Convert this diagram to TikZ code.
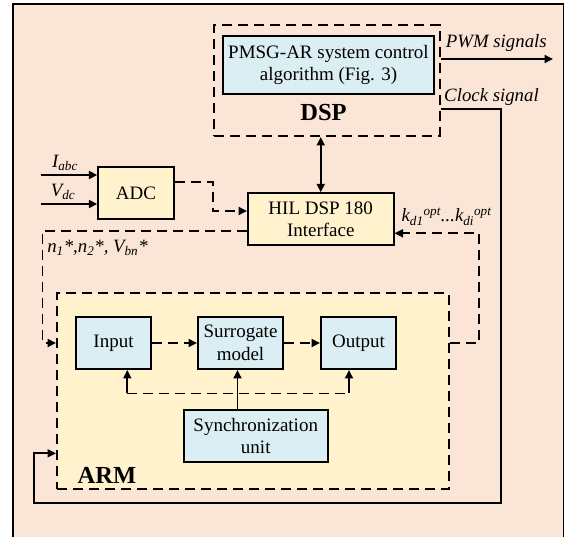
\documentclass[tikz,border=0pt]{standalone}
\usepackage{fontspec}
\setmainfont{Liberation Serif}
\usetikzlibrary{arrows.meta}

\definecolor{peach}{HTML}{FBE5D6}
\definecolor{paleyellow}{HTML}{FFF2CC}
\definecolor{paleblue}{HTML}{DAEEF3}

\tikzset{
    blk/.style={draw, line width=2pt, align=center, inner sep=0pt,
                font=\fontsize{19}{22.5}\selectfont},
    bluebox/.style={blk, fill=paleblue},
    yelbox/.style={blk, fill=paleyellow},
    grp/.style={draw, line width=2pt, dash pattern=on 10pt off 6pt, inner sep=0pt},
    sig/.style={line width=1.8pt},
    dsig/.style={line width=1.9pt, dash pattern=on 10pt off 6pt},
    lbl/.style={font=\fontsize{18.8}{22.5}\selectfont\itshape, inner sep=0pt},
    grptitle/.style={font=\fontsize{24.5}{28}\selectfont\bfseries, inner sep=0pt},
}

\begin{document}
\begin{tikzpicture}[x=1pt, y=-1pt, >={Triangle[length=8.5pt,width=8pt]}]
    \useasboundingbox (0,0) rectangle (566,537);
    \clip (0,0) rectangle (566,537);
    \draw[line width=1.6pt, fill=peach] (12.7,4) rectangle (563.5,560);

    % DSP part
    \node[grp, minimum width=225.5pt, minimum height=111pt] (dsp) at (326.75,80.5) {};
    \node[bluebox, minimum width=211pt, minimum height=58.3pt] (pmsg) at (328.5,64.85)
        {PMSG-AR system control\\algorithm (Fig. 3)};
    \node[grptitle] (dsptitle) at (323.5,112.7) {DSP};

    \coordinate (pwm) at (553,59);
    \draw[sig,->] (dsp.east |- pwm) -- (pwm);
    \node[lbl] (pwmlbl) at (496.3,43) {PWM signals};
    \node[lbl] (clklbl) at (491.5,97) {Clock signal};

    % interface and ADC
    \node[yelbox, minimum width=75.4pt, minimum height=52.6pt] (adc) at (136,193) {ADC};
    \node[yelbox, minimum width=145.5pt, minimum height=51.7pt] (hil) at (320.75,219.15)
        {HIL DSP 180\\Interface};

    \draw[sig,<->] (hil.north |- dsp.south) -- (hil.north);

    \coordinate (iabc) at (40.7,175);
    \coordinate (vdc) at (40.7,204);
    \draw[sig,->] (iabc) -- (adc.west |- iabc);
    \draw[sig,->] (vdc) -- (adc.west |- vdc);
    \node[lbl] (iabclbl) at (65,162.7) {I\textsubscript{abc}};
    \node[lbl] (vdclbl) at (63,192.3) {V\textsubscript{dc}};

    \draw[dsig,->] (adc.east |- 0,181.7) -| (212.7,211) -- (hil.west |- 0,211);

    % ARM part
    \node[grp, fill=paleyellow, minimum width=392pt, minimum height=195.4pt] (arm) at (253,391) {};
    \node[bluebox, minimum width=75pt, minimum height=52pt] (input) at (113.5,343) {Input};
    \node[bluebox, minimum width=85pt, minimum height=52pt] (surr) at (240.5,343) {Surrogate\\model};
    \node[bluebox, minimum width=75pt, minimum height=52pt] (output) at (358.5,343) {Output};
    \node[bluebox, minimum width=143.5pt, minimum height=51.5pt] (sync) at (255.75,436.25)
        {Synchronization\\unit};
    \node[grptitle] (armtitle) at (107,475) {ARM};

    \draw[dsig,->] (input) -- (surr);
    \draw[dsig,->] (surr) -- (output);

    \coordinate (busL) at (127.3,393.5);
    \coordinate (busM) at (237.5,393.5);
    \coordinate (busR) at (349,393.5);
    \draw[dsig] (busL) -- (busR);
    \draw[sig] (sync.north -| busM) -- (busM);
    \draw[sig,->] (busL) -- (input.south -| busL);
    \draw[sig,->] (busM) -- (surr.south -| busM);
    \draw[sig,->] (busR) -- (output.south -| busR);

    % links between HIL and ARM
    \draw[dsig,->] (hil.west |- 0,231) -| (42.5,343) -- (arm.west |- 0,343);
    \draw[dsig,->] (arm.east |- 0,343) -| (479,233.3) -- (hil.east |- 0,233.3);
    \node[lbl] (nlbl) at (97.5,248) {n\textsubscript{1}*,n\textsubscript{2}*, V\textsubscript{bn}*};
    \node[lbl] (klbl) at (446.5,216.7)
        {k\textsubscript{d1}\textsuperscript{opt}...k\textsubscript{di}\textsuperscript{opt}};

    % clock
    \coordinate (clkR) at (501,503.3);
    \coordinate (clkL) at (34,453.3);
    \draw[sig,->] (dsp.east |- 0,109.3) -| (clkR) -| (clkL) -- (arm.west |- clkL);

\end{tikzpicture}
\end{document}
